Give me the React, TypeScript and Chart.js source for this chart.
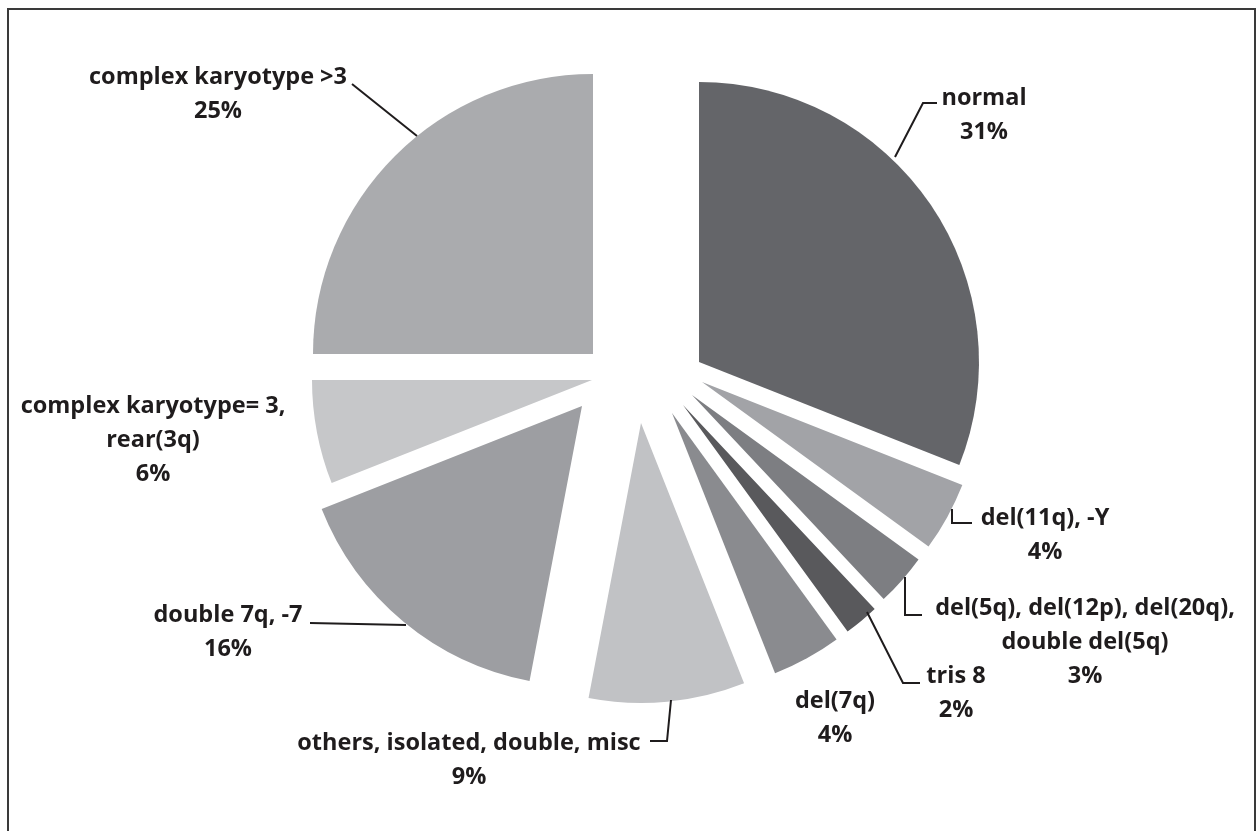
import React, { useEffect, useRef } from "react";
import { Chart, ArcElement, PieController } from "chart.js";

Chart.register(ArcElement, PieController);

// Karyotype groups, clockwise from 12 o'clock
const categories: string[][] = [
  ["normal"],
  ["del(11q), -Y"],
  ["del(5q), del(12p), del(20q),", "double del(5q)"],
  ["tris 8"],
  ["del(7q)"],
  ["others, isolated, double, misc"],
  ["double 7q, -7"],
  ["complex karyotype= 3,", "rear(3q)"],
  ["complex karyotype >3"],
];
const percentages: number[] = [31, 4, 3, 2, 4, 9, 16, 6, 25];

const sliceColors = [
  "#646569",
  "#a2a3a7",
  "#7d7e82",
  "#59595c",
  "#8a8b8f",
  "#c1c2c5",
  "#9d9ea2",
  "#c6c7c9",
  "#aaabae",
];

// how far each slice is pulled out of the pie (px)
const explodeX = [59, 62, 52, 43, 32, 1, -58, -48, -47];
const explodeY = [-23, -3, 10, 20, 28, 38, 21, -5, -31];

// label block placement: centre x and first baseline y
const labelX = [984, 1045, 1085, 956, 835, 469, 228, 153, 218];
const labelY = [105, 525, 615, 683, 708, 750, 622, 413, 84];
const lineGap = 34;

// leader lines from label to slice
const leaders: number[][][] = [
  [[937, 103], [923, 103], [895, 157]],
  [[972, 523], [952, 523], [952, 509]],
  [[922, 615], [905, 615], [905, 577]],
  [[920, 683], [903, 683], [867, 612]],
  [],
  [[650, 741], [667, 741], [671, 700]],
  [[310, 623], [406, 625]],
  [],
  [[352, 84], [417, 136]],
];

const FONT = "bold 23.5px 'Open Sans', 'DejaVu Sans', sans-serif";
const INK = "#1f1c1d";

const explodePlugin = {
  id: "explodeSlices",
  afterDatasetsUpdate(chart: any) {
    const meta = chart.getDatasetMeta(0);
    meta.data.forEach((arc: any, i: number) => {
      arc.x += explodeX[i];
      arc.y += explodeY[i];
    });
  },
};

const framePlugin = {
  id: "frame",
  beforeDraw(chart: any) {
    const ctx = chart.ctx;
    ctx.save();
    ctx.fillStyle = "#ffffff";
    ctx.fillRect(0, 0, chart.width, chart.height);
    ctx.strokeStyle = "#3a3a3a";
    ctx.lineWidth = 2;
    ctx.strokeRect(8, 9, 1247, 900);
    ctx.restore();
  },
};

const labelPlugin = {
  id: "sliceLabels",
  afterDraw(chart: any) {
    const ctx = chart.ctx;
    ctx.save();
    ctx.strokeStyle = INK;
    ctx.lineWidth = 2;
    ctx.lineJoin = "miter";
    leaders.forEach((path) => {
      if (!path.length) return;
      ctx.beginPath();
      ctx.moveTo(path[0][0], path[0][1]);
      for (let k = 1; k < path.length; k++) ctx.lineTo(path[k][0], path[k][1]);
      ctx.stroke();
    });
    ctx.fillStyle = INK;
    ctx.font = FONT;
    ctx.textAlign = "center";
    ctx.textBaseline = "alphabetic";
    categories.forEach((lines, i) => {
      const all = [...lines, `${percentages[i]}%`];
      all.forEach((t, k) => {
        ctx.fillText(t, labelX[i], labelY[i] + k * lineGap);
      });
    });
    ctx.restore();
  },
};

export default function App() {
  const canvasRef = useRef<HTMLCanvasElement | null>(null);

  useEffect(() => {
    if (!canvasRef.current) return;
    const chart = new Chart(canvasRef.current, {
      type: "pie",
      data: {
        labels: categories.map((l) => l.join(" ")),
        datasets: [
          {
            data: percentages,
            backgroundColor: sliceColors,
            borderWidth: 0,
          },
        ],
      },
      options: {
        animation: false,
        responsive: true,
        maintainAspectRatio: false,
        radius: 280,
        layout: { padding: { left: 20, right: 0, top: 0, bottom: 61 } },
        plugins: {},
        events: [],
      } as any,
      plugins: [framePlugin, explodePlugin, labelPlugin],
    });
    return () => chart.destroy();
  }, []);

  return (
    <div style={{ position: "absolute", left: 0, top: 0, width: 1260, height: 831 }}>
      <canvas ref={canvasRef} />
    </div>
  );
}
